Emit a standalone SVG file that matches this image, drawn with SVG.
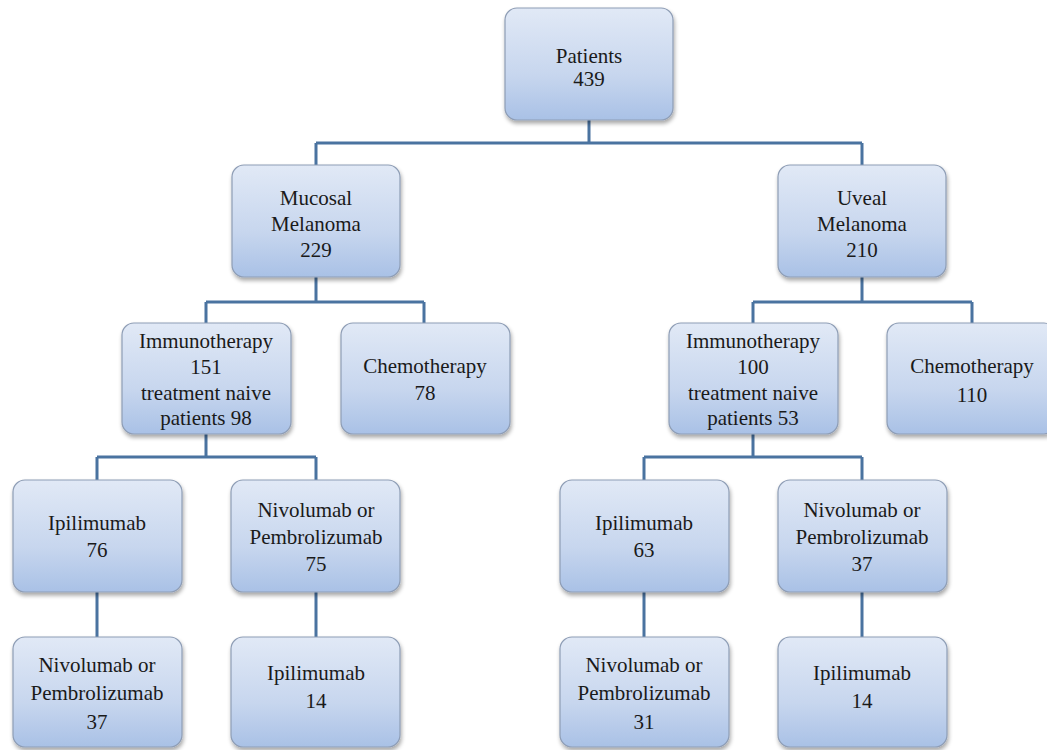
<svg xmlns="http://www.w3.org/2000/svg" width="1047" height="750" viewBox="0 0 1047 750">
<defs>
<linearGradient id="g" x1="0" y1="0" x2="0" y2="1">
<stop offset="0" stop-color="#e1e9f6"/>
<stop offset="0.6" stop-color="#c7d6ee"/>
<stop offset="1" stop-color="#a9c1e6"/>
</linearGradient>
<filter id="sh" x="-10%" y="-10%" width="125%" height="130%">
<feGaussianBlur in="SourceAlpha" stdDeviation="2"/>
<feOffset dx="1" dy="3"/>
<feComponentTransfer><feFuncA type="linear" slope="0.35"/></feComponentTransfer>
<feMerge><feMergeNode/><feMergeNode in="SourceGraphic"/></feMerge>
</filter>
</defs>
<style>
.box{fill:url(#g);stroke:#8e9db5;stroke-width:1.2;filter:url(#sh)}
.t{font-family:"Liberation Serif","Times New Roman",serif;font-size:21px;fill:#1a1a1a;text-anchor:middle}
.c{fill:none;stroke:#4a73a0;stroke-width:3}
</style>
<rect width="1047" height="750" fill="#ffffff"/>
<g id="connectors">
<path class="c" d="M589 120V143M316 143H862M316 143V165M862 143V165"/>
<path class="c" d="M316 277V302M206 302H424M206 302V323M424 302V323"/>
<path class="c" d="M862 277V302M753 302H972M753 302V323M972 302V323"/>
<path class="c" d="M206 434V457M97 457H316M97 457V480M316 457V480"/>
<path class="c" d="M753 434V457M644 457H862M644 457V480M862 457V480"/>
<path class="c" d="M97 592V637M316 592V637M644 592V637M862 592V637"/>
</g>
<g id="patients"><rect class="box" x="505" y="8" width="168" height="112" rx="12"/>
<text class="t" x="589" y="63">Patients</text><text class="t" x="589" y="86">439</text></g>
<g id="mucosal"><rect class="box" x="232" y="165" width="168" height="112" rx="12"/>
<text class="t" x="316" y="205">Mucosal</text><text class="t" x="316" y="231">Melanoma</text><text class="t" x="316" y="257">229</text></g>
<g id="uveal"><rect class="box" x="778" y="165" width="168" height="112" rx="12"/>
<text class="t" x="862" y="205">Uveal</text><text class="t" x="862" y="231">Melanoma</text><text class="t" x="862" y="257">210</text></g>
<g id="immuno-mucosal"><rect class="box" x="122" y="323" width="169" height="111" rx="12"/>
<text class="t" x="206" y="348">Immunotherapy</text><text class="t" x="206" y="374">151</text><text class="t" x="206" y="400">treatment naive</text><text class="t" x="206" y="425">patients 98</text></g>
<g id="chemo-mucosal"><rect class="box" x="341" y="323" width="169" height="111" rx="12"/>
<text class="t" x="425" y="373">Chemotherapy</text><text class="t" x="425" y="400">78</text></g>
<g id="immuno-uveal"><rect class="box" x="669" y="323" width="169" height="111" rx="12"/>
<text class="t" x="753" y="348">Immunotherapy</text><text class="t" x="753" y="374">100</text><text class="t" x="753" y="400">treatment naive</text><text class="t" x="753" y="425">patients 53</text></g>
<g id="chemo-uveal"><rect class="box" x="887" y="323" width="169" height="111" rx="12"/>
<text class="t" x="972" y="373">Chemotherapy</text><text class="t" x="972" y="402">110</text></g>
<g id="ipi-76"><rect class="box" x="13" y="480" width="169" height="112" rx="12"/>
<text class="t" x="97" y="530">Ipilimumab</text><text class="t" x="97" y="557">76</text></g>
<g id="nivo-75"><rect class="box" x="231" y="480" width="169" height="112" rx="12"/>
<text class="t" x="316" y="517">Nivolumab or</text><text class="t" x="316" y="544">Pembrolizumab</text><text class="t" x="316" y="571">75</text></g>
<g id="ipi-63"><rect class="box" x="560" y="480" width="169" height="112" rx="12"/>
<text class="t" x="644" y="530">Ipilimumab</text><text class="t" x="644" y="557">63</text></g>
<g id="nivo-37u"><rect class="box" x="778" y="480" width="169" height="112" rx="12"/>
<text class="t" x="862" y="517">Nivolumab or</text><text class="t" x="862" y="544">Pembrolizumab</text><text class="t" x="862" y="571">37</text></g>
<g id="nivo-37m"><rect class="box" x="13" y="637" width="169" height="110" rx="12"/>
<text class="t" x="97" y="672">Nivolumab or</text><text class="t" x="97" y="700">Pembrolizumab</text><text class="t" x="97" y="729">37</text></g>
<g id="ipi-14m"><rect class="box" x="231" y="637" width="169" height="110" rx="12"/>
<text class="t" x="316" y="680">Ipilimumab</text><text class="t" x="316" y="708">14</text></g>
<g id="nivo-31"><rect class="box" x="560" y="637" width="169" height="110" rx="12"/>
<text class="t" x="644" y="672">Nivolumab or</text><text class="t" x="644" y="700">Pembrolizumab</text><text class="t" x="644" y="729">31</text></g>
<g id="ipi-14u"><rect class="box" x="778" y="637" width="169" height="110" rx="12"/>
<text class="t" x="862" y="680">Ipilimumab</text><text class="t" x="862" y="708">14</text></g>
</svg>
